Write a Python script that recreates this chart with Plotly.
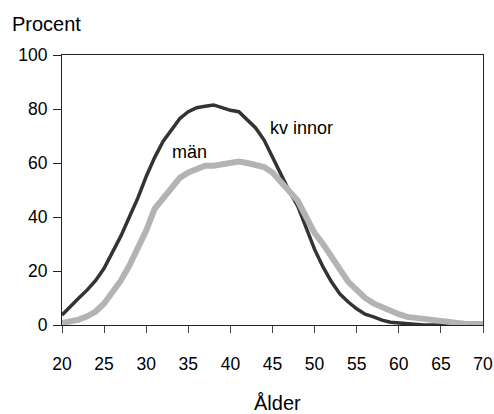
import plotly.graph_objects as go

# Ålder (år) och andel i procent
alder = list(range(20, 71))

kvinnor = [3.7, 7, 10, 13, 16.5, 21, 27, 33, 40, 47,
           55, 62, 68, 72, 76.5, 79, 80.5, 81, 81.5, 80.5,
           79.5, 79, 76, 73, 68.5, 62, 55.5, 49.5, 44, 36,
           28, 21.5, 16, 11.5, 8.5, 6, 4, 3, 1.8, 1,
           0.7, 0.3, 0, 0, 0, 0, 0, 0, 0, 0, 0]

man = [0.7, 1.2, 2, 3.2, 5, 8, 12, 16.5, 22, 28,
       35, 43, 47, 50.5, 54.5, 56.5, 58, 59, 59, 59.5,
       60.5, 60.5, 60, 59.5, 58.5, 56.5, 53, 49.5, 46, 40,
       34, 30, 25, 21, 16, 13, 10, 8, 6.5, 5,
       4, 3, 2.6, 2, 1.5, 1.2, 0.7, 0.5, 0.4, 0.4, 0.4]

x_ticks = list(range(20, 71, 5))
y_ticks = [0, 20, 40, 60, 80, 100]

family = "Liberation Sans, Arial, sans-serif"
tick_font = dict(family=family, size=17.5, color="black")
label_font = dict(family=family, size=18, color="black")
title_font = dict(family=family, size=20, color="black")

fig = go.Figure()

fig.add_trace(go.Scatter(x=alder, y=kvinnor, mode="lines", name="kvinnor",
                         line=dict(color="#333333", width=3.5), cliponaxis=False))
fig.add_trace(go.Scatter(x=alder, y=man, mode="lines", name="män",
                         line=dict(color="#b3b3b3", width=6), cliponaxis=False))

fig.add_annotation(x=35.2, y=64, text="män", showarrow=False, font=label_font)
fig.add_annotation(x=48.5, y=73, text="kv innor", showarrow=False, font=label_font)

# axeltitlar
fig.add_annotation(xref="paper", yref="paper", x=-0.1235, y=1.115, text="Procent",
                   xanchor="left", yanchor="middle", showarrow=False, font=title_font)
fig.add_annotation(xref="paper", yref="paper", x=0.513, y=-0.29, text="Ålder",
                   xanchor="center", yanchor="middle", showarrow=False, font=title_font)

fig.update_xaxes(range=[20, 70], tickvals=x_ticks, ticks="outside", ticklen=7,
                 tickcolor="#444", showline=True, linecolor="#222", linewidth=1,
                 mirror=True, showgrid=False, zeroline=False, tickfont=tick_font,
                 ticklabelstandoff=16, automargin=False)
fig.update_yaxes(range=[0, 100], tickvals=y_ticks, ticks="outside", ticklen=8,
                 tickcolor="#222", showline=True, linecolor="#222", linewidth=1,
                 mirror=True, showgrid=False, zeroline=False, tickfont=tick_font,
                 ticklabelstandoff=2, automargin=False)

fig.update_layout(width=494, height=414, showlegend=False,
                  plot_bgcolor="white", paper_bgcolor="white",
                  margin=dict(l=62, r=11, t=55, b=89))

fig.write_html("out.html", config={"displayModeBar": False},
               post_script="document.body.style.margin='0';")
